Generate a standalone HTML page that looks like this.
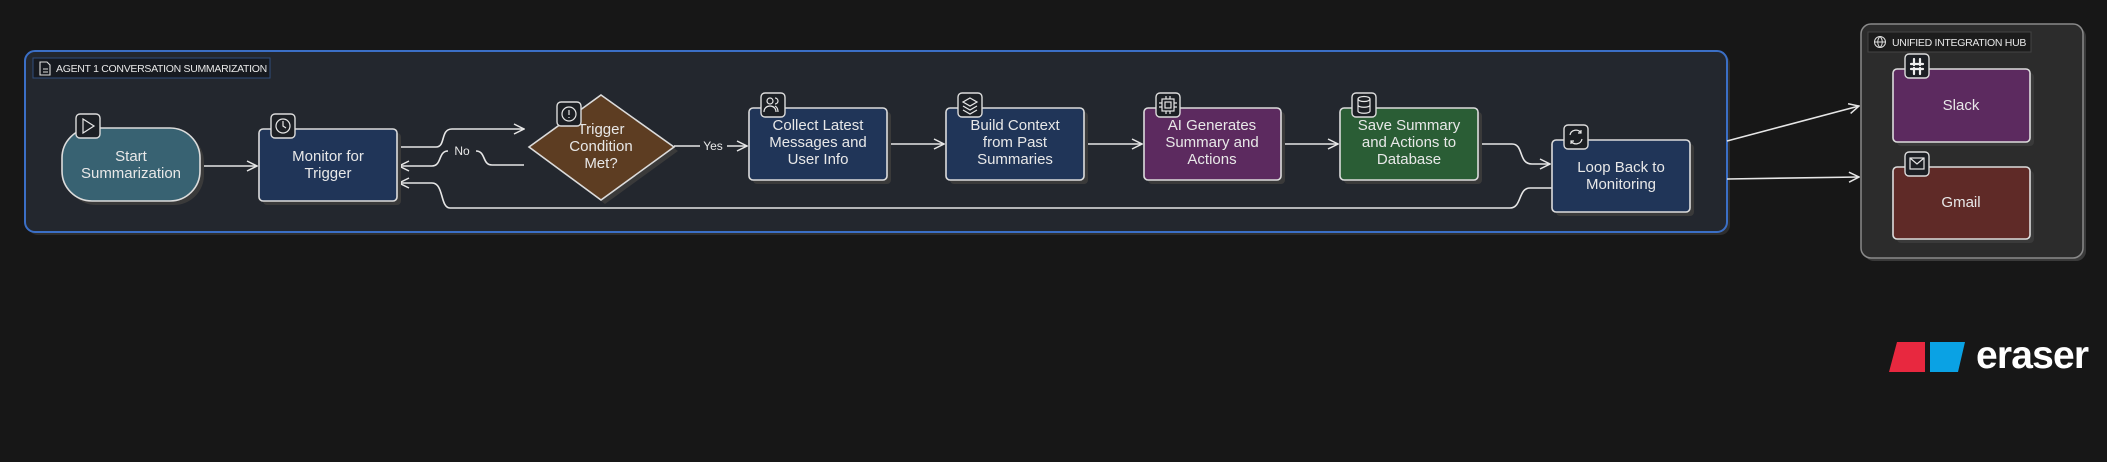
<!DOCTYPE html>
<html><head><meta charset="utf-8"><style>
html,body{margin:0;padding:0;background:#171717;width:2107px;height:462px;overflow:hidden}
svg{display:block}
text{font-family:"Liberation Sans",sans-serif;fill:#e8e8e8}
.n{font-size:15px;text-anchor:middle}
.ln{fill:none;stroke:#e6e6e6;stroke-width:1.6}
.nb{stroke:#dcdcdc;stroke-width:1.6}
.ic{fill:#1c1f24;stroke:#dcdcdc;stroke-width:1.4}
.ig{fill:none;stroke:#e6e6e6;stroke-width:1.2}
</style></head><body>
<svg width="2107" height="462" viewBox="0 0 2107 462" xmlns="http://www.w3.org/2000/svg">
<defs>
<marker id="a" viewBox="0 0 12 12" refX="11" refY="6" markerWidth="12" markerHeight="12" markerUnits="userSpaceOnUse" orient="auto"><path d="M1,1 L11,6 L1,11" fill="none" stroke="#e6e6e6" stroke-width="1.5"/></marker>
</defs>
<rect x="28" y="54" width="1702" height="181" rx="10" fill="#2e2e2e"/>
<rect x="25" y="51" width="1702" height="181" rx="10" fill="#23272e" stroke="#3b6fc6" stroke-width="2"/>
<rect x="33" y="58" width="237" height="20" fill="#171a20" stroke="#2f4c7c" stroke-width="1"/>
<path d="M40 62h7l3 3v10h-10z M43 69h5 M43 72h5" fill="none" stroke="#ddd" stroke-width="1.1"/>
<text x="56" y="72" font-size="10.5" style="letter-spacing:-0.3px">AGENT 1 CONVERSATION SUMMARIZATION</text>

<rect x="1864" y="27" width="222" height="234" rx="10" fill="#3a3a3a"/>
<rect x="1861" y="24" width="222" height="234" rx="10" fill="#2c2c2c" stroke="#8a8a8a" stroke-width="1.5"/>
<rect x="1868" y="32" width="163" height="20" fill="#1c1c1c" stroke="#444" stroke-width="1"/>
<circle cx="1880" cy="42" r="5.5" fill="none" stroke="#ddd" stroke-width="1"/><path d="M1874.5 42h11 M1880 36.5c-3 3-3 8 0 11 M1880 36.5c3 3 3 8 0 11" fill="none" stroke="#ddd" stroke-width="1"/>
<text x="1892" y="46" font-size="10.5" style="letter-spacing:-0.3px">UNIFIED INTEGRATION HUB</text>

<path class="ln" d="M200 166H257" marker-end="url(#a)"/>
<path class="ln" d="M397 147H436C446 147 440 129 452 129H524" marker-end="url(#a)"/>
<path class="ln" d="M524 165H492C482 165 486 151 476 151M448 151C438 151 442 166 432 166H399" marker-end="url(#a)"/>
<text x="462" y="155" font-size="12" text-anchor="middle">No</text>
<path class="ln" d="M1552 188H1530C1518 188 1522 208 1510 208H450C440 208 444 183 432 183H399" marker-end="url(#a)"/>
<path class="ln" d="M674 146H700M727 146H747" marker-end="url(#a)"/>
<text x="713" y="150" font-size="12" text-anchor="middle">Yes</text>
<path class="ln" d="M887 144H944" marker-end="url(#a)"/>
<path class="ln" d="M1084 144H1142" marker-end="url(#a)"/>
<path class="ln" d="M1281 144H1338" marker-end="url(#a)"/>
<path class="ln" d="M1478 144H1512C1524 144 1518 164 1532 164H1550" marker-end="url(#a)"/>
<path class="ln" d="M1727 141L1859 106" marker-end="url(#a)"/>
<path class="ln" d="M1727 179L1859 177" marker-end="url(#a)"/>

<g fill="#3a3a3a">
<rect x="66" y="132" width="138" height="73" rx="30"/>
<rect x="263" y="133" width="138" height="72" rx="4"/>
<rect x="753" y="112" width="138" height="72" rx="4"/>
<rect x="950" y="112" width="138" height="72" rx="4"/>
<rect x="1148" y="112" width="137" height="72" rx="4"/>
<rect x="1344" y="112" width="138" height="72" rx="4"/>
<rect x="1556" y="144" width="138" height="72" rx="4"/>
<rect x="1897" y="73" width="137" height="73" rx="4"/>
<rect x="1897" y="171" width="137" height="72" rx="4"/>
<path d="M605 99L678 151L605 204L533 151Z"/>
</g>
<rect class="nb" x="62" y="128" width="138" height="73" rx="30" fill="#386272"/>
<text class="n" x="131" y="161">Start</text><text class="n" x="131" y="178">Summarization</text>
<rect class="nb" x="259" y="129" width="138" height="72" rx="4" fill="#203558"/>
<text class="n" x="328" y="161">Monitor for</text><text class="n" x="328" y="178">Trigger</text>
<path class="nb" d="M601 95L674 147L601 200L529 147Z" fill="#5d3d22"/>
<text class="n" x="601" y="134">Trigger</text><text class="n" x="601" y="151">Condition</text><text class="n" x="601" y="168">Met?</text>
<rect class="nb" x="749" y="108" width="138" height="72" rx="4" fill="#203558"/>
<text class="n" x="818" y="130">Collect Latest</text><text class="n" x="818" y="147">Messages and</text><text class="n" x="818" y="164">User Info</text>
<rect class="nb" x="946" y="108" width="138" height="72" rx="4" fill="#203558"/>
<text class="n" x="1015" y="130">Build Context</text><text class="n" x="1015" y="147">from Past</text><text class="n" x="1015" y="164">Summaries</text>
<rect class="nb" x="1144" y="108" width="137" height="72" rx="4" fill="#5c2a5f"/>
<text class="n" x="1212" y="130">AI Generates</text><text class="n" x="1212" y="147">Summary and</text><text class="n" x="1212" y="164">Actions</text>
<rect class="nb" x="1340" y="108" width="138" height="72" rx="4" fill="#2a5d35"/>
<text class="n" x="1409" y="130">Save Summary</text><text class="n" x="1409" y="147">and Actions to</text><text class="n" x="1409" y="164">Database</text>
<rect class="nb" x="1552" y="140" width="138" height="72" rx="4" fill="#203558"/>
<text class="n" x="1621" y="172">Loop Back to</text><text class="n" x="1621" y="189">Monitoring</text>
<rect class="nb" x="1893" y="69" width="137" height="73" rx="4" fill="#5c2a5f"/>
<text class="n" x="1961" y="110">Slack</text>
<rect class="nb" x="1893" y="167" width="137" height="72" rx="4" fill="#5f2a27"/>
<text class="n" x="1961" y="207">Gmail</text>

<rect class="ic" x="76" y="114" width="24" height="24" rx="4"/><path class="ig" d="M83 119L94 126L83 133Z"/>
<rect class="ic" x="271" y="114" width="24" height="24" rx="4"/><circle class="ig" cx="283" cy="126" r="7"/><path class="ig" d="M283 121V126L286 128"/>
<rect class="ic" x="557" y="102" width="24" height="24" rx="4"/><circle class="ig" cx="569" cy="114" r="7"/><path class="ig" d="M569 110V115M569 117V118"/>
<rect class="ic" x="761" y="93" width="24" height="24" rx="4"/><circle class="ig" cx="770" cy="101" r="3"/><path class="ig" d="M764 112c0-4 3-6 6-6s6 2 6 6M775 98a3 3 0 0 1 0 6M778 112c0-3-1-5-3-6"/>
<rect class="ic" x="958" y="93" width="24" height="24" rx="4"/><path class="ig" d="M970 98L977 102L970 106L963 102Z M963 106L970 110L977 106 M963 110L970 114L977 110"/>
<rect class="ic" x="1156" y="93" width="24" height="24" rx="4"/><rect class="ig" x="1162" y="99" width="12" height="12"/><rect class="ig" x="1165" y="102" width="6" height="6"/><path class="ig" d="M1166 96v3M1170 96v3M1166 111v3M1170 111v3M1159 103h3M1159 107h3M1174 103h3M1174 107h3"/>
<rect class="ic" x="1352" y="93" width="24" height="24" rx="4"/><ellipse class="ig" cx="1364" cy="99" rx="6" ry="2.5"/><path class="ig" d="M1358 99v12c0 3 12 3 12 0V99M1358 105c0 3 12 3 12 0"/>
<rect class="ic" x="1564" y="125" width="24" height="24" rx="4"/><path class="ig" d="M1570 135a6 6 0 0 1 11-2M1582 139a6 6 0 0 1-11 2M1581 130v3h-3M1571 144v-3h3"/>
<rect class="ic" x="1905" y="54" width="24" height="24" rx="4"/><path d="M1914 59v6M1920 59v6M1911 64h12M1911 69h12M1914 68v6M1920 68v6" stroke="#eee" stroke-width="2.2" stroke-linecap="round"/>
<rect class="ic" x="1905" y="152" width="24" height="24" rx="4"/><rect class="ig" x="1910" y="158" width="14" height="11"/><path class="ig" d="M1910 158L1917 164L1924 158"/>

<path d="M1897 342H1925V372H1889Z" fill="#e8283f"/>
<path d="M1930 342H1965L1958 372H1930Z" fill="#0aa2e4"/>
<text x="1976" y="368" font-size="39" font-weight="bold" style="fill:#fff;letter-spacing:-0.8px">eraser</text>
</svg>
</body></html>
